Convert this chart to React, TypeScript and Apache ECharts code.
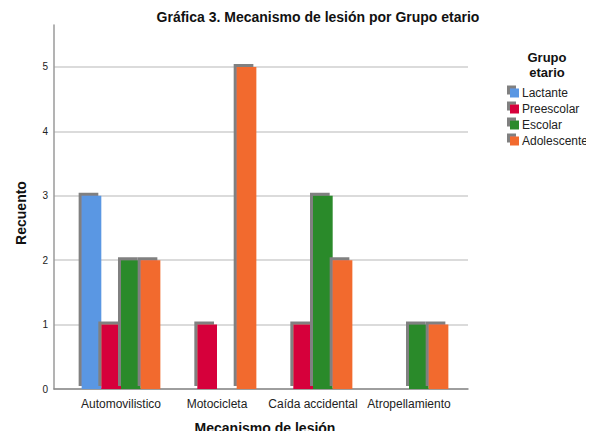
import React, { useEffect, useRef } from "react";
import * as echarts from "echarts";

const categories = ["Automovilistico", "Motocicleta", "Caída accidental", "Atropellamiento"];
const groups = ["Lactante", "Preescolar", "Escolar", "Adolescente"];
const lactante = [3, 0, 0, 0];
const preescolar = [1, 1, 1, 0];
const escolar = [2, 0, 3, 1];
const adolescente = [2, 5, 2, 1];
const colors = ["#5A97E3", "#D6003B", "#2B8A2B", "#F26B2D"];
const yTicks = [0, 1, 2, 3, 4, 5];

const FONT = "'Liberation Sans', Arial, sans-serif";

export default function App() {
  const ref = useRef<HTMLDivElement>(null);
  useEffect(() => {
    if (!ref.current) return;
    const chart = echarts.init(ref.current, undefined, { renderer: "svg" });
    const values = [lactante, preescolar, escolar, adolescente];
    const yMax = 5.65;
    const shadow = {
      shadowColor: "#808080",
      shadowBlur: 0,
      shadowOffsetX: -3,
      shadowOffsetY: -3,
    };
    chart.setOption({
      animation: false,
      backgroundColor: "#ffffff",
      textStyle: { fontFamily: FONT },
      title: {
        text: "Gráfica 3. Mecanismo de lesión por Grupo etario",
        left: 313,
        textAlign: "center",
        top: 5,
        textStyle: { fontSize: 14, fontWeight: "bold", color: "#111", fontFamily: FONT },
      },
      legend: {
        orient: "vertical",
        left: 510,
        top: 86,
        padding: 0,
        itemWidth: 9,
        itemHeight: 9,
        itemGap: 2,
        icon: "rect",
        data: groups,
        itemStyle: { ...shadow },
        textStyle: { fontSize: 12, lineHeight: 14, color: "#222", fontFamily: FONT, padding: [0, 0, 0, -2] },
      },
      graphic: [
        {
          type: "text",
          x: 547,
          y: 57,
          style: {
            text: "Grupo",
            font: `bold 13px ${FONT}`,
            fill: "#111",
            align: "center",
            verticalAlign: "middle",
          },
        },
        {
          type: "text",
          x: 547,
          y: 72.5,
          style: {
            text: "etario",
            font: `bold 13px ${FONT}`,
            fill: "#111",
            align: "center",
            verticalAlign: "middle",
          },
        },
        {
          type: "text",
          x: 21,
          y: 213,
          rotation: Math.PI / 2,
          style: {
            text: "Recuento",
            font: `bold 14px ${FONT}`,
            fill: "#111",
            align: "center",
            verticalAlign: "middle",
          },
        },
      ],
      grid: [
        { left: 73, right: 137, top: 25, bottom: 50, outerBoundsMode: "none", containLabel: false },
        { left: 54, right: 126, top: 25, bottom: 50, outerBoundsMode: "none", containLabel: false },
      ],
      xAxis: [
        {
          type: "category",
          gridIndex: 0,
          data: categories,
          axisLine: { show: false },
          axisTick: { show: false },
          axisLabel: { fontSize: 12, color: "#222", margin: 9, interval: 0, fontFamily: FONT },
          name: "Mecanismo de lesión",
          nameLocation: "middle",
          nameGap: 32,
          nameTextStyle: { fontSize: 14, fontWeight: "bold", color: "#111", fontFamily: FONT },
        },
        {
          type: "value",
          gridIndex: 1,
          min: 0,
          max: 1,
          axisLine: { show: true, onZero: false, lineStyle: { color: "#8a8a8a", width: 1.5 } },
          axisTick: { show: false },
          axisLabel: { show: false },
          splitLine: { show: false },
        },
      ],
      yAxis: [
        {
          type: "value",
          gridIndex: 0,
          min: 0,
          max: yMax,
          show: false,
          splitLine: { show: false },
        },
        {
          type: "value",
          gridIndex: 1,
          min: 0,
          max: yMax,
          interval: 1,
          axisLine: { show: true, lineStyle: { color: "#9a9a9a", width: 1.5 } },
          axisTick: { show: false },
          axisLabel: {
            fontSize: 10,
            color: "#222",
            margin: 6,
            showMaxLabel: false,
            fontFamily: FONT,
            formatter: (v: number) => (yTicks.includes(v) ? String(v) : ""),
          },
          splitLine: { show: true, showMaxLine: false, lineStyle: { color: "#cfcfcf", width: 1.5 } },
        },
      ],
      series: groups.map((g, i) => ({
        name: g,
        type: "bar",
        xAxisIndex: 0,
        yAxisIndex: 0,
        data: values[i].map((v) => (v === 0 ? "-" : v)),
        barGap: "0%",
        barCategoryGap: "18%",
        itemStyle: { color: colors[i], ...shadow },
      })),
    });
    return () => chart.dispose();
  }, []);
  return <div ref={ref} style={{ width: 594, height: 439, margin: -8 }} />;
}
